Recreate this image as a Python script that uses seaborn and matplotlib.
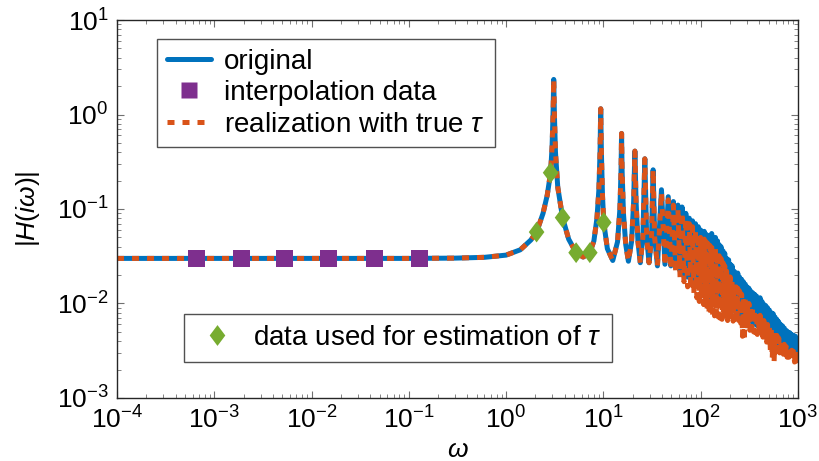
import matplotlib
matplotlib.use("Agg")
import matplotlib.pyplot as plt
from matplotlib.lines import Line2D
from matplotlib.ticker import NullFormatter
import seaborn as sns

# frequency response (shared part up to omega ~ 36)
omega_low = [1e-4, 1e-3, 1e-2, 0.1, 0.3, 0.6, 1.0, 1.4, 1.8, 2.06,
             2.4, 2.65, 2.87, 2.97, 3.04, 3.09, 3.14, 3.22, 3.4, 3.81,
             4.4, 5.25, 6.2, 7.26, 8.0, 8.6, 9.0, 9.25, 9.4, 9.55,
             9.8, 10.1, 11.0, 12.5, 14.0, 14.8, 15.2, 15.4, 15.6, 16.1,
             17.0, 18.1, 19.5, 20.5, 21.1, 21.7, 22.7, 24.0, 25.5, 26.7,
             27.9, 29.5, 31.3, 32.5, 33.7, 36.0]
h_low = [0.03, 0.03, 0.03, 0.03, 0.0302, 0.0308, 0.0325, 0.037, 0.047, 0.057,
         0.09, 0.14, 0.242, 0.45, 1.0, 2.35, 1.0, 0.4, 0.17, 0.081,
         0.048, 0.0345, 0.031, 0.0345, 0.046, 0.08, 0.16, 0.4, 1.15, 0.4,
         0.14, 0.072, 0.038, 0.0285, 0.045, 0.1, 0.25, 0.63, 0.25, 0.09,
         0.042, 0.028, 0.045, 0.12, 0.41, 0.12, 0.045, 0.027, 0.05, 0.34,
         0.05, 0.027, 0.05, 0.26, 0.05, 0.025]

# dense resonance band: peaks and the dips that follow them
omega_peaks = [39.6, 46.5, 52.5, 58.5, 64.5, 70.5, 76.5, 82.5, 88.5, 94.5,
               100, 104.5, 109, 114, 119, 125, 130, 136, 142, 149,
               155, 162, 170, 177, 185, 194, 202, 211, 221, 231,
               241, 252, 264, 275, 288, 301, 314, 328, 343, 359,
               375, 392, 409, 428, 447, 467, 488, 510, 533, 557,
               582, 608, 636, 664, 694, 725, 758, 792, 828, 865,
               904, 945, 987]
omega_dips = [43, 49.5, 55.5, 61.5, 67.5, 73.5, 79.5, 85.5, 91.5, 97,
              102, 107, 111.5, 116.5, 122, 127.5, 133, 139, 145.5, 152,
              158.5, 166, 173.5, 181, 189.5, 198, 206.5, 216, 226, 236,
              246.5, 258, 269.5, 281.5, 294.5, 307.5, 321, 335.5, 351, 367,
              383.5, 400.5, 418.5, 437.5, 457, 477.5, 499, 521.5, 545, 569.5,
              595, 622, 650, 679, 709.5, 741.5, 775, 810, 846.5, 884.5,
              924.5, 966, 1000]
h_orig_peaks = [0.16, 0.135, 0.12, 0.11, 0.105, 0.09, 0.08, 0.075, 0.07, 0.065,
                0.06, 0.055, 0.058, 0.054, 0.052, 0.05, 0.055, 0.048, 0.05, 0.046,
                0.042, 0.04, 0.036, 0.034, 0.03, 0.029, 0.026, 0.025, 0.022, 0.021,
                0.021, 0.019, 0.018, 0.017, 0.016, 0.015, 0.0145, 0.0135, 0.013, 0.0125,
                0.012, 0.0112, 0.0115, 0.0105, 0.0098, 0.0095, 0.009, 0.0085, 0.008, 0.0078,
                0.0072, 0.0068, 0.0064, 0.006, 0.0058, 0.0055, 0.0052, 0.005, 0.0049, 0.0047,
                0.0046, 0.0045, 0.0042]
h_orig_dips = [0.026, 0.025, 0.024, 0.022, 0.02, 0.019, 0.018, 0.017, 0.016, 0.015,
               0.014, 0.0135, 0.013, 0.0125, 0.012, 0.0115, 0.011, 0.0108, 0.0105, 0.0102,
               0.01, 0.0097, 0.0095, 0.0092, 0.009, 0.0088, 0.0086, 0.0084, 0.0082, 0.008,
               0.0078, 0.0076, 0.0074, 0.0072, 0.007, 0.0068, 0.0066, 0.0064, 0.0062, 0.006,
               0.0058, 0.0056, 0.0054, 0.0052, 0.005, 0.0048, 0.0046, 0.0044, 0.0042, 0.004,
               0.0039, 0.0038, 0.0037, 0.0036, 0.0035, 0.0034, 0.0033, 0.0032, 0.0031, 0.003,
               0.003, 0.0029, 0.003]
h_real_peaks = [0.15, 0.125, 0.11, 0.1, 0.092, 0.08, 0.07, 0.065, 0.06, 0.055,
                0.05, 0.047, 0.048, 0.045, 0.043, 0.041, 0.044, 0.038, 0.039, 0.035,
                0.032, 0.03, 0.027, 0.025, 0.022, 0.021, 0.019, 0.018, 0.016, 0.015,
                0.0145, 0.0135, 0.0125, 0.012, 0.011, 0.0105, 0.01, 0.0094, 0.009, 0.0086,
                0.0082, 0.0077, 0.0075, 0.0071, 0.0066, 0.0064, 0.006, 0.0057, 0.0054, 0.0052,
                0.0048, 0.0046, 0.0043, 0.004, 0.0039, 0.0037, 0.0035, 0.0034, 0.0033, 0.0032,
                0.0031, 0.003, 0.0029]
h_real_dips = [0.025, 0.023, 0.021, 0.019, 0.017, 0.015, 0.014, 0.0125, 0.0115, 0.0105,
               0.0105, 0.0098, 0.0092, 0.0085, 0.008, 0.0078, 0.0076, 0.0074, 0.0073, 0.0072,
               0.007, 0.0068, 0.007, 0.0068, 0.0066, 0.0072, 0.0068, 0.0065, 0.0068, 0.0063,
               0.0066, 0.0062, 0.0045, 0.004, 0.0058, 0.0055, 0.0052, 0.0054, 0.005, 0.0049,
               0.0047, 0.0046, 0.0045, 0.0044, 0.0042, 0.0039, 0.0036, 0.0032, 0.0026, 0.0024,
               0.0031, 0.0031, 0.003, 0.0029, 0.0029, 0.0028, 0.0027, 0.0027, 0.0026, 0.0025,
               0.0024, 0.0023, 0.0025]

omega_interp = [6.5e-4, 1.9e-3, 5.3e-3, 1.5e-2, 4.4e-2, 0.13]
h_interp = [0.03, 0.03, 0.03, 0.03, 0.03, 0.03]

omega_est = [2.06, 2.87, 3.81, 5.25, 7.26, 10.1]
h_est = [0.057, 0.242, 0.081, 0.0345, 0.0345, 0.072]


def interleave(a, b):
    return [v for pair in zip(a, b) for v in pair]


omega = omega_low + interleave(omega_peaks, omega_dips)
h_orig = h_low + interleave(h_orig_peaks, h_orig_dips)
h_real = h_low + interleave(h_real_peaks, h_real_dips)

blue = "#0072BD"
orange = "#D95319"
purple = "#7E2F8E"
green = "#77AC30"
diamond = [(0, 1), (0.75, 0), (0, -1), (-0.75, 0), (0, 1)]
dash = (0, (1.4, 1.6))

sns.set_style("ticks")
plt.rcParams["font.family"] = ["Liberation Sans", "DejaVu Sans"]
plt.rcParams["mathtext.fontset"] = "custom"
plt.rcParams["mathtext.rm"] = "Liberation Sans"
plt.rcParams["mathtext.it"] = "Liberation Sans:italic"
plt.rcParams["text.color"] = "black"
plt.rcParams["axes.labelcolor"] = "black"
plt.rcParams["xtick.labelcolor"] = "black"
plt.rcParams["ytick.labelcolor"] = "black"

fig, ax = plt.subplots(figsize=(8.2, 4.61), dpi=100)
fig.subplots_adjust(left=0.1427, right=0.973, bottom=0.1367, top=0.9566)

sns.lineplot(x=omega, y=h_orig, ax=ax, color=blue, lw=3.6,
             sort=False, estimator=None)
sns.lineplot(x=omega, y=h_real, ax=ax, color=orange, lw=3.6, linestyle=dash,
             sort=False, estimator=None)
sns.scatterplot(x=omega_interp, y=h_interp, ax=ax, marker="s", s=150,
                color=purple, edgecolor="none", zorder=5)
sns.scatterplot(x=omega_est, y=h_est, ax=ax, marker=diamond, s=225,
                color=green, edgecolor="none", zorder=5)

ax.set(xscale="log", yscale="log", xlim=(1e-4, 1e3), ylim=(1e-3, 1e1))
ax.xaxis.set_minor_formatter(NullFormatter())
ax.yaxis.set_minor_formatter(NullFormatter())
ax.set_xlabel(r"$\omega$", fontsize=19, labelpad=3)
ax.set_ylabel(r"$|H(i\omega)|$", fontsize=19, labelpad=11)
ax.tick_params(which="both", direction="in", top=True, right=True,
               labelsize=19, color="#707070")
ax.tick_params(which="major", length=5, width=0.8, pad=6)
ax.tick_params(which="minor", length=3, width=0.6)
for s in ax.spines.values():
    s.set_color("#262626")
    s.set_linewidth(1.0)

h1 = [Line2D([], [], color=blue, lw=3.6),
      Line2D([], [], color=purple, marker="s", ls="none", markersize=12.2,
             markeredgecolor="none"),
      Line2D([], [], color=orange, lw=3.6, linestyle=dash)]
l1 = ["original", "interpolation data", r"realization with true $\tau$"]
leg1 = ax.legend(h1, l1, loc="upper left", bbox_to_anchor=(0.0587, 0.95),
                 fontsize=20, frameon=True, fancybox=False, borderaxespad=0,
                 handlelength=1.6, handletextpad=0.47, labelspacing=0.2,
                 borderpad=0.35)
leg1.get_frame().set_edgecolor("#262626")
leg1.get_frame().set_linewidth(1.0)
ax.add_artist(leg1)

h2 = [Line2D([], [], color=green, marker=diamond, ls="none", markersize=15,
             markeredgecolor="none")]
leg2 = ax.legend(h2, [r"data used for estimation of $\tau$"], loc="upper left",
                 bbox_to_anchor=(0.0984, 0.222), fontsize=20, frameon=True,
                 fancybox=False, borderaxespad=0, handlelength=1.6,
                 handletextpad=0.47, borderpad=0.4)
leg2.get_frame().set_edgecolor("#262626")
leg2.get_frame().set_linewidth(1.0)

plt.savefig("out.png", dpi=100)
